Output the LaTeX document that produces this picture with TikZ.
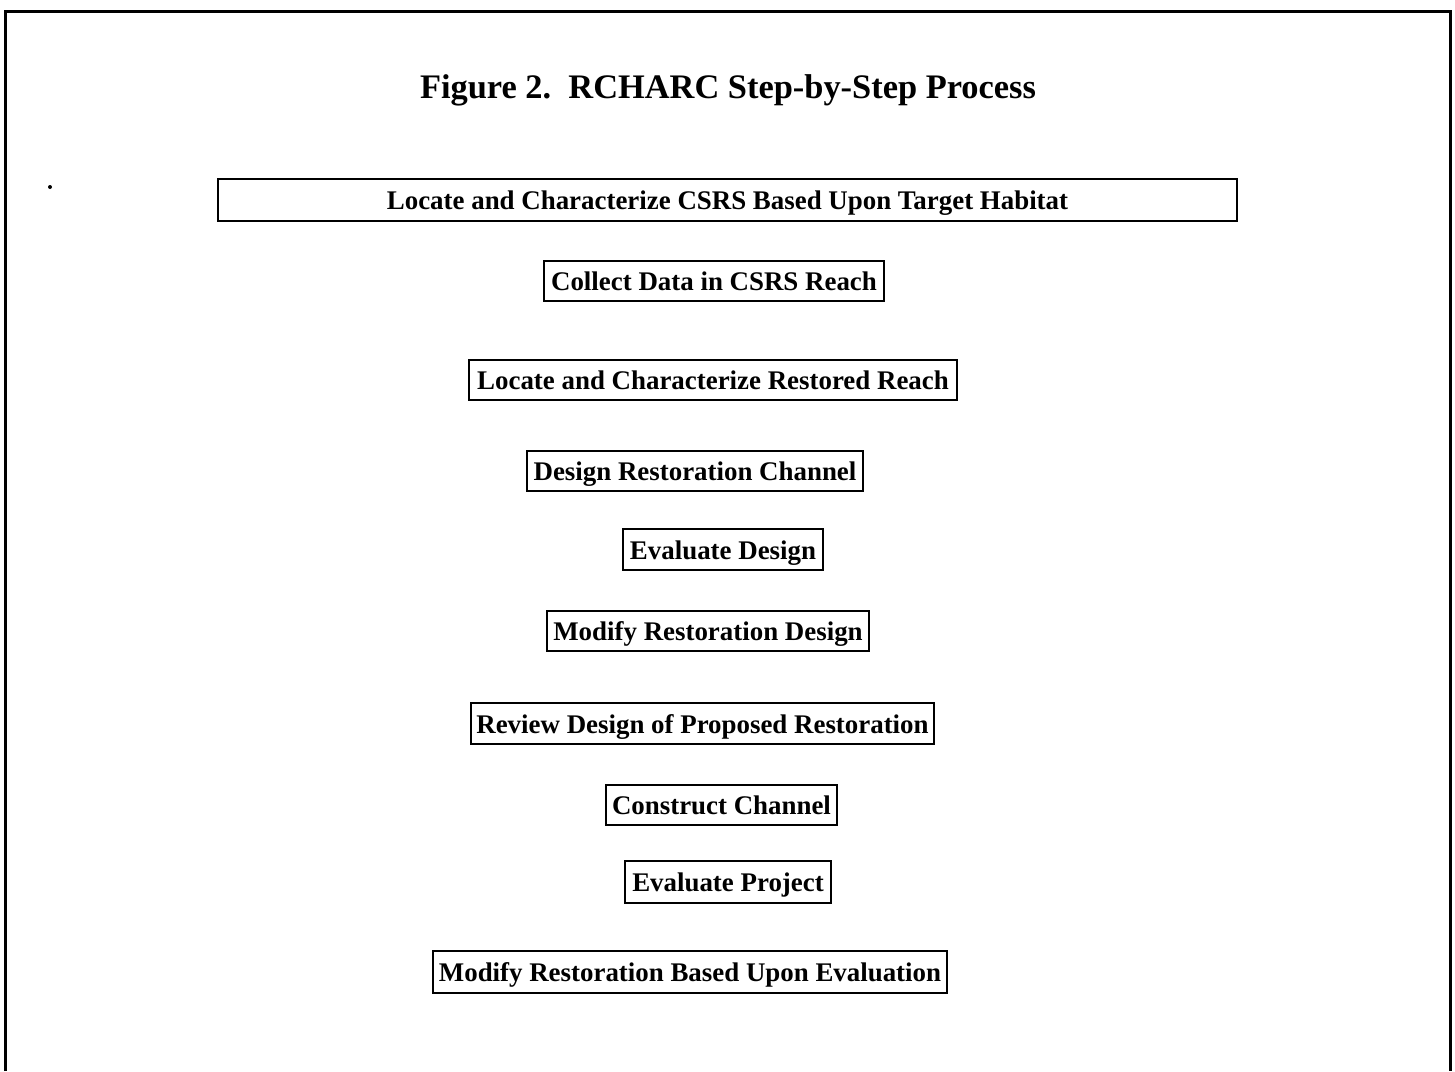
\documentclass[tikz,border=0pt]{standalone}
\usepackage{fontspec}
\setmainfont{Liberation Serif}
\begin{document}
\begin{tikzpicture}[x=0.5pt,y=-0.5pt,
  stepbox/.style={draw=black, line width=1.2pt, inner sep=0pt,
    font=\fontsize{13.45pt}{15pt}\selectfont\bfseries,
    text height=9.6pt, text depth=0pt},
  frameline/.style={draw=black, line width=1.5pt}]
\useasboundingbox (0,0) rectangle (1455,1071);
\fill[white] (0,0) rectangle (1455,1071);
% outer frame (open at bottom)
\coordinate (fbl) at (5,1071);
\coordinate (ftl) at (5,11);
\coordinate (ftr) at (1450,11);
\coordinate (fbr) at (1450,1071);
\draw[frameline] (fbl) -- (ftl) -- (ftr) -- (fbr);
% stray mark
\fill (50,187) circle (2);
% title
\node[anchor=base, inner sep=0pt, font=\fontsize{17.2pt}{20pt}\selectfont\bfseries] (title) at (728,98) {Figure 2.\ \ RCHARC Step-by-Step Process};
% steps
\node[stepbox, minimum width=509.5pt, minimum height=21pt] (s1) at (727.5,200) {Locate and Characterize CSRS Based Upon Target Habitat};
\node[stepbox, minimum width=170pt, minimum height=20pt] (s2) at (714,281) {Collect Data in CSRS Reach};
\node[stepbox, minimum width=244pt, minimum height=20pt] (s3) at (713,380) {Locate and Characterize Restored Reach};
\node[stepbox, minimum width=168pt, minimum height=20pt] (s4) at (695,471) {Design Restoration Channel};
\node[stepbox, minimum width=100pt, minimum height=20.5pt] (s5) at (723,549.5) {Evaluate Design};
\node[stepbox, minimum width=161pt, minimum height=20pt] (s6) at (708,631) {Modify Restoration Design};
\node[stepbox, minimum width=231.5pt, minimum height=20.5pt] (s7) at (702.5,723.5) {Review Design of Proposed Restoration};
\node[stepbox, minimum width=115.5pt, minimum height=20pt] (s8) at (721.5,805) {Construct Channel};
\node[stepbox, minimum width=103pt, minimum height=21pt] (s9) at (728,882) {Evaluate Project};
\node[stepbox, minimum width=257pt, minimum height=21pt] (s10) at (690,972) {Modify Restoration Based Upon Evaluation};
\end{tikzpicture}
\end{document}
